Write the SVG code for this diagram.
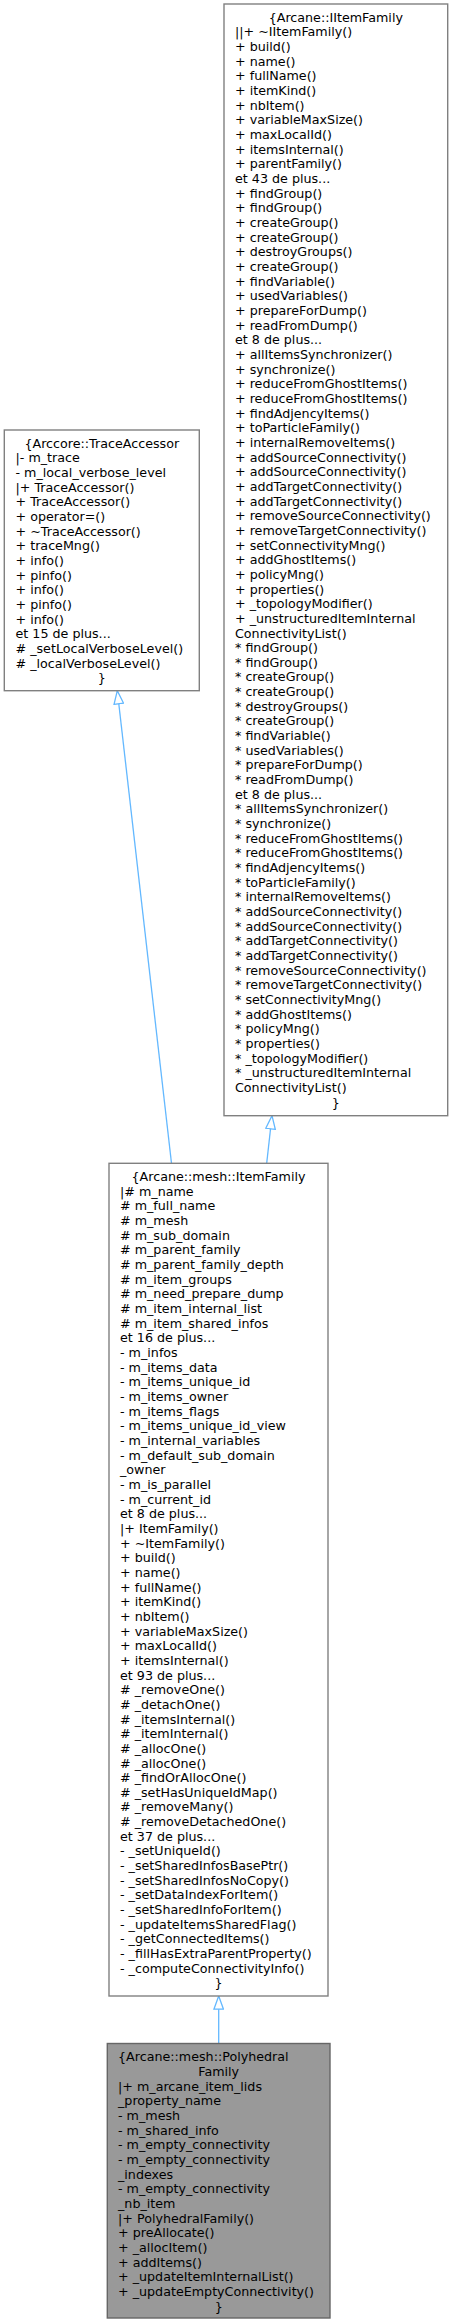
<svg xmlns="http://www.w3.org/2000/svg" width="453" height="2324" viewBox="0 0 453 2324">
<style>
.box{fill:#ffffff;stroke:#808080;stroke-width:1.4}
.focus{fill:#999999;stroke:#666666;stroke-width:1.4}
text{font-family:"DejaVu Sans","Liberation Sans",sans-serif;font-size:12.7px;fill:#000000}
.c{text-anchor:middle}
.edge{fill:none;stroke:#63B8FF;stroke-width:1.3}
</style>
<defs>
<marker id="inh" viewBox="0 0 15 11" refX="14" refY="5.5" markerWidth="15" markerHeight="11" markerUnits="userSpaceOnUse" orient="auto">
<polygon points="0.8,0.7 14,5.5 0.8,10.3" fill="#ffffff" stroke="#63B8FF" stroke-width="1.3"/>
</marker>
</defs>
<rect width="453" height="2324" fill="#ffffff"/>

<g id="connectors">
<path class="edge" d="M266.7,1163.3 L272,1115.7" marker-end="url(#inh)"/>
<path class="edge" d="M171.5,1163.3 L117.3,690.7" marker-end="url(#inh)"/>
<path class="edge" d="M218.7,2043.5 L218.7,1996" marker-end="url(#inh)"/>
</g>

<g id="IItemFamily">
<rect class="box" x="224" y="4" width="223.7" height="1111.7"/>
<text class="c" x="335.8" y="21.8">{Arcane::IItemFamily</text>
<text x="235" y="21.8"><tspan x="235" dy="14.66">||+ ~IItemFamily()</tspan><tspan x="235" dy="14.66">+ build()</tspan><tspan x="235" dy="14.66">+ name()</tspan><tspan x="235" dy="14.66">+ fullName()</tspan><tspan x="235" dy="14.66">+ itemKind()</tspan><tspan x="235" dy="14.66">+ nbItem()</tspan><tspan x="235" dy="14.66">+ variableMaxSize()</tspan><tspan x="235" dy="14.66">+ maxLocalId()</tspan><tspan x="235" dy="14.66">+ itemsInternal()</tspan><tspan x="235" dy="14.66">+ parentFamily()</tspan><tspan x="235" dy="14.66">et 43 de plus...</tspan><tspan x="235" dy="14.66">+ findGroup()</tspan><tspan x="235" dy="14.66">+ findGroup()</tspan><tspan x="235" dy="14.66">+ createGroup()</tspan><tspan x="235" dy="14.66">+ createGroup()</tspan><tspan x="235" dy="14.66">+ destroyGroups()</tspan><tspan x="235" dy="14.66">+ createGroup()</tspan><tspan x="235" dy="14.66">+ findVariable()</tspan><tspan x="235" dy="14.66">+ usedVariables()</tspan><tspan x="235" dy="14.66">+ prepareForDump()</tspan><tspan x="235" dy="14.66">+ readFromDump()</tspan><tspan x="235" dy="14.66">et 8 de plus...</tspan><tspan x="235" dy="14.66">+ allItemsSynchronizer()</tspan><tspan x="235" dy="14.66">+ synchronize()</tspan><tspan x="235" dy="14.66">+ reduceFromGhostItems()</tspan><tspan x="235" dy="14.66">+ reduceFromGhostItems()</tspan><tspan x="235" dy="14.66">+ findAdjencyItems()</tspan><tspan x="235" dy="14.66">+ toParticleFamily()</tspan><tspan x="235" dy="14.66">+ internalRemoveItems()</tspan><tspan x="235" dy="14.66">+ addSourceConnectivity()</tspan><tspan x="235" dy="14.66">+ addSourceConnectivity()</tspan><tspan x="235" dy="14.66">+ addTargetConnectivity()</tspan><tspan x="235" dy="14.66">+ addTargetConnectivity()</tspan><tspan x="235" dy="14.66">+ removeSourceConnectivity()</tspan><tspan x="235" dy="14.66">+ removeTargetConnectivity()</tspan><tspan x="235" dy="14.66">+ setConnectivityMng()</tspan><tspan x="235" dy="14.66">+ addGhostItems()</tspan><tspan x="235" dy="14.66">+ policyMng()</tspan><tspan x="235" dy="14.66">+ properties()</tspan><tspan x="235" dy="14.66">+ _topologyModifier()</tspan><tspan x="235" dy="14.66">+ _unstructuredItemInternal</tspan><tspan x="235" dy="14.66">ConnectivityList()</tspan><tspan x="235" dy="14.66">* findGroup()</tspan><tspan x="235" dy="14.66">* findGroup()</tspan><tspan x="235" dy="14.66">* createGroup()</tspan><tspan x="235" dy="14.66">* createGroup()</tspan><tspan x="235" dy="14.66">* destroyGroups()</tspan><tspan x="235" dy="14.66">* createGroup()</tspan><tspan x="235" dy="14.66">* findVariable()</tspan><tspan x="235" dy="14.66">* usedVariables()</tspan><tspan x="235" dy="14.66">* prepareForDump()</tspan><tspan x="235" dy="14.66">* readFromDump()</tspan><tspan x="235" dy="14.66">et 8 de plus...</tspan><tspan x="235" dy="14.66">* allItemsSynchronizer()</tspan><tspan x="235" dy="14.66">* synchronize()</tspan><tspan x="235" dy="14.66">* reduceFromGhostItems()</tspan><tspan x="235" dy="14.66">* reduceFromGhostItems()</tspan><tspan x="235" dy="14.66">* findAdjencyItems()</tspan><tspan x="235" dy="14.66">* toParticleFamily()</tspan><tspan x="235" dy="14.66">* internalRemoveItems()</tspan><tspan x="235" dy="14.66">* addSourceConnectivity()</tspan><tspan x="235" dy="14.66">* addSourceConnectivity()</tspan><tspan x="235" dy="14.66">* addTargetConnectivity()</tspan><tspan x="235" dy="14.66">* addTargetConnectivity()</tspan><tspan x="235" dy="14.66">* removeSourceConnectivity()</tspan><tspan x="235" dy="14.66">* removeTargetConnectivity()</tspan><tspan x="235" dy="14.66">* setConnectivityMng()</tspan><tspan x="235" dy="14.66">* addGhostItems()</tspan><tspan x="235" dy="14.66">* policyMng()</tspan><tspan x="235" dy="14.66">* properties()</tspan><tspan x="235" dy="14.66">* _topologyModifier()</tspan><tspan x="235" dy="14.66">* _unstructuredItemInternal</tspan><tspan x="235" dy="14.66">ConnectivityList()</tspan></text>
<text class="c" x="335.8" y="1106.6">}</text>
</g>

<g id="TraceAccessor">
<rect class="box" x="4.3" y="430" width="195" height="260.7"/>
<text class="c" x="101.8" y="447.8">{Arccore::TraceAccessor</text>
<text x="15.5" y="447.8"><tspan x="15.5" dy="14.66">|- m_trace</tspan><tspan x="15.5" dy="14.66">- m_local_verbose_level</tspan><tspan x="15.5" dy="14.66">|+ TraceAccessor()</tspan><tspan x="15.5" dy="14.66">+ TraceAccessor()</tspan><tspan x="15.5" dy="14.66">+ operator=()</tspan><tspan x="15.5" dy="14.66">+ ~TraceAccessor()</tspan><tspan x="15.5" dy="14.66">+ traceMng()</tspan><tspan x="15.5" dy="14.66">+ info()</tspan><tspan x="15.5" dy="14.66">+ pinfo()</tspan><tspan x="15.5" dy="14.66">+ info()</tspan><tspan x="15.5" dy="14.66">+ pinfo()</tspan><tspan x="15.5" dy="14.66">+ info()</tspan><tspan x="15.5" dy="14.66">et 15 de plus...</tspan><tspan x="15.5" dy="14.66"># _setLocalVerboseLevel()</tspan><tspan x="15.5" dy="14.66"># _localVerboseLevel()</tspan></text>
<text class="c" x="101.8" y="682.4">}</text>
</g>

<g id="ItemFamily">
<rect class="box" x="109" y="1163.3" width="219" height="832.7"/>
<text class="c" x="218.5" y="1181.1">{Arcane::mesh::ItemFamily</text>
<text x="120" y="1181.1"><tspan x="120" dy="14.66">|# m_name</tspan><tspan x="120" dy="14.66"># m_full_name</tspan><tspan x="120" dy="14.66"># m_mesh</tspan><tspan x="120" dy="14.66"># m_sub_domain</tspan><tspan x="120" dy="14.66"># m_parent_family</tspan><tspan x="120" dy="14.66"># m_parent_family_depth</tspan><tspan x="120" dy="14.66"># m_item_groups</tspan><tspan x="120" dy="14.66"># m_need_prepare_dump</tspan><tspan x="120" dy="14.66"># m_item_internal_list</tspan><tspan x="120" dy="14.66"># m_item_shared_infos</tspan><tspan x="120" dy="14.66">et 16 de plus...</tspan><tspan x="120" dy="14.66">- m_infos</tspan><tspan x="120" dy="14.66">- m_items_data</tspan><tspan x="120" dy="14.66">- m_items_unique_id</tspan><tspan x="120" dy="14.66">- m_items_owner</tspan><tspan x="120" dy="14.66">- m_items_flags</tspan><tspan x="120" dy="14.66">- m_items_unique_id_view</tspan><tspan x="120" dy="14.66">- m_internal_variables</tspan><tspan x="120" dy="14.66">- m_default_sub_domain</tspan><tspan x="120" dy="14.66">_owner</tspan><tspan x="120" dy="14.66">- m_is_parallel</tspan><tspan x="120" dy="14.66">- m_current_id</tspan><tspan x="120" dy="14.66">et 8 de plus...</tspan><tspan x="120" dy="14.66">|+ ItemFamily()</tspan><tspan x="120" dy="14.66">+ ~ItemFamily()</tspan><tspan x="120" dy="14.66">+ build()</tspan><tspan x="120" dy="14.66">+ name()</tspan><tspan x="120" dy="14.66">+ fullName()</tspan><tspan x="120" dy="14.66">+ itemKind()</tspan><tspan x="120" dy="14.66">+ nbItem()</tspan><tspan x="120" dy="14.66">+ variableMaxSize()</tspan><tspan x="120" dy="14.66">+ maxLocalId()</tspan><tspan x="120" dy="14.66">+ itemsInternal()</tspan><tspan x="120" dy="14.66">et 93 de plus...</tspan><tspan x="120" dy="14.66"># _removeOne()</tspan><tspan x="120" dy="14.66"># _detachOne()</tspan><tspan x="120" dy="14.66"># _itemsInternal()</tspan><tspan x="120" dy="14.66"># _itemInternal()</tspan><tspan x="120" dy="14.66"># _allocOne()</tspan><tspan x="120" dy="14.66"># _allocOne()</tspan><tspan x="120" dy="14.66"># _findOrAllocOne()</tspan><tspan x="120" dy="14.66"># _setHasUniqueIdMap()</tspan><tspan x="120" dy="14.66"># _removeMany()</tspan><tspan x="120" dy="14.66"># _removeDetachedOne()</tspan><tspan x="120" dy="14.66">et 37 de plus...</tspan><tspan x="120" dy="14.66">- _setUniqueId()</tspan><tspan x="120" dy="14.66">- _setSharedInfosBasePtr()</tspan><tspan x="120" dy="14.66">- _setSharedInfosNoCopy()</tspan><tspan x="120" dy="14.66">- _setDataIndexForItem()</tspan><tspan x="120" dy="14.66">- _setSharedInfoForItem()</tspan><tspan x="120" dy="14.66">- _updateItemsSharedFlag()</tspan><tspan x="120" dy="14.66">- _getConnectedItems()</tspan><tspan x="120" dy="14.66">- _fillHasExtraParentProperty()</tspan><tspan x="120" dy="14.66">- _computeConnectivityInfo()</tspan></text>
<text class="c" x="218.5" y="1987.4">}</text>
</g>

<g id="PolyhedralFamily">
<rect class="focus" x="107.3" y="2043.5" width="222.7" height="274.5"/>
<text x="118" y="2061.3">{Arcane::mesh::Polyhedral</text>
<text class="c" x="218.7" y="2075.96">Family</text>
<text x="118" y="2075.96"><tspan x="118" dy="14.66">|+ m_arcane_item_lids</tspan><tspan x="118" dy="14.66">_property_name</tspan><tspan x="118" dy="14.66">- m_mesh</tspan><tspan x="118" dy="14.66">- m_shared_info</tspan><tspan x="118" dy="14.66">- m_empty_connectivity</tspan><tspan x="118" dy="14.66">- m_empty_connectivity</tspan><tspan x="118" dy="14.66">_indexes</tspan><tspan x="118" dy="14.66">- m_empty_connectivity</tspan><tspan x="118" dy="14.66">_nb_item</tspan><tspan x="118" dy="14.66">|+ PolyhedralFamily()</tspan><tspan x="118" dy="14.66">+ preAllocate()</tspan><tspan x="118" dy="14.66">+ _allocItem()</tspan><tspan x="118" dy="14.66">+ addItems()</tspan><tspan x="118" dy="14.66">+ _updateItemInternalList()</tspan><tspan x="118" dy="14.66">+ _updateEmptyConnectivity()</tspan></text>
<text class="c" x="218.7" y="2310.5">}</text>
</g>
</svg>
